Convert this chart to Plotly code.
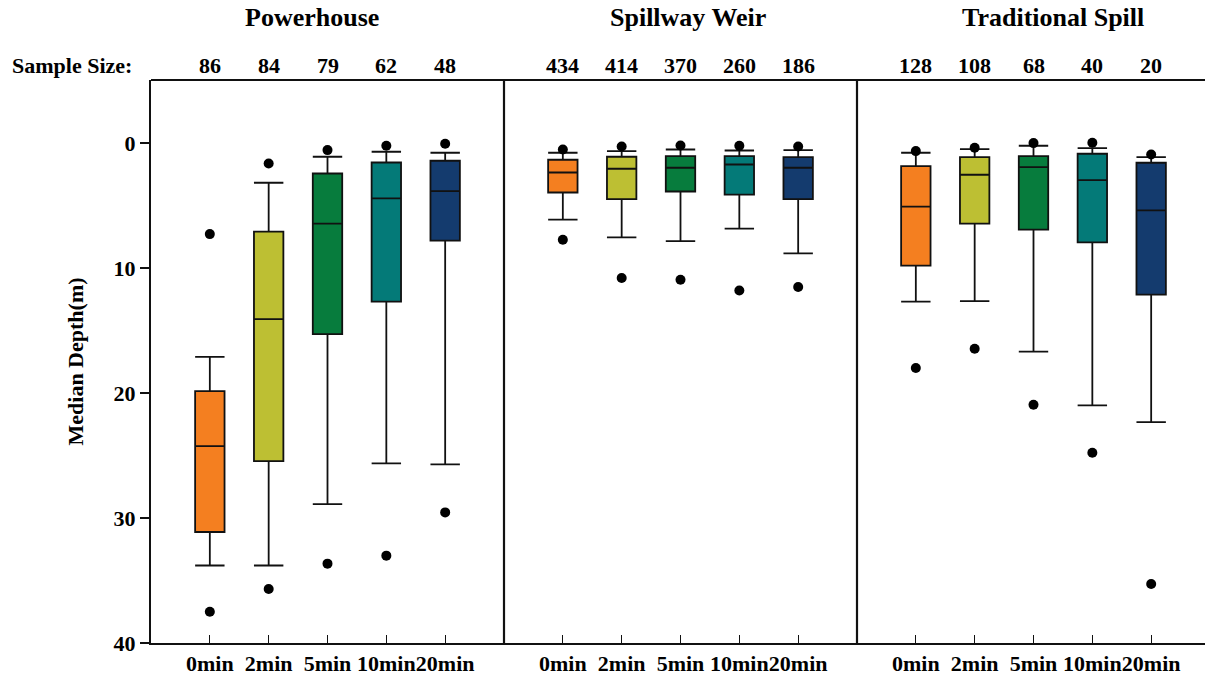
import plotly.graph_objects as go

# Release groups and time-after-passage categories
panels = ["Powerhouse", "Spillway Weir", "Traditional Spill"]
time_labels = ["0min", "2min", "5min", "10min", "20min"]
box_colors = ["#F47F20", "#BDBF33", "#077C3D", "#047A78", "#143B6E"]

# Sample sizes per group
n_powerhouse = [86, 84, 79, 62, 48]
n_spillway = [434, 414, 370, 260, 186]
n_traditional = [128, 108, 68, 40, 20]

# Median depth (m) summaries: 5th pct, whisker low, Q1, median, Q3, whisker high, 95th pct
ph_p5 = [7.28, 1.63, 0.56, 0.21, 0.05]
ph_wlo = [17.1, 3.17, 1.09, 0.69, 0.77]
ph_q1 = [19.84, 7.09, 2.43, 1.55, 1.41]
ph_med = [24.24, 14.08, 6.45, 4.43, 3.84]
ph_q3 = [31.12, 25.44, 15.28, 12.69, 7.81]
ph_whi = [33.8, 33.8, 28.88, 25.63, 25.71]
ph_p95 = [37.5, 35.68, 33.65, 33.01, 29.55]

sw_p5 = [0.51, 0.27, 0.19, 0.21, 0.27]
sw_wlo = [0.77, 0.64, 0.51, 0.59, 0.56]
sw_q1 = [1.33, 1.09, 1.04, 1.04, 1.12]
sw_med = [2.35, 2.05, 1.97, 1.71, 1.97]
sw_q3 = [3.95, 4.48, 3.87, 4.13, 4.48]
sw_whi = [6.13, 7.55, 7.84, 6.85, 8.83]
sw_p95 = [7.73, 10.8, 10.93, 11.79, 11.52]

ts_p5 = [0.64, 0.37, 0.0, -0.03, 0.91]
ts_wlo = [0.77, 0.48, 0.21, 0.4, 1.12]
ts_q1 = [1.84, 1.12, 1.04, 0.85, 1.57]
ts_med = [5.09, 2.53, 1.92, 2.96, 5.39]
ts_q3 = [9.81, 6.45, 6.93, 7.95, 12.13]
ts_whi = [12.69, 12.64, 16.69, 20.99, 22.32]
ts_p95 = [18.0, 16.45, 20.93, 24.77, 35.28]

y_ticks = [0, 10, 20, 30, 40]

groups = [
    (n_powerhouse, ph_p5, ph_wlo, ph_q1, ph_med, ph_q3, ph_whi, ph_p95),
    (n_spillway, sw_p5, sw_wlo, sw_q1, sw_med, sw_q3, sw_whi, sw_p95),
    (n_traditional, ts_p5, ts_wlo, ts_q1, ts_med, ts_q3, ts_whi, ts_p95),
]

FONT = "Liberation Serif"
W, H = 1205, 680
ML, MR, MT, MB = 151, 0, 80, 37
plot_w = W - ML - MR
plot_h = H - MT - MB

# panel edges in pixels, converted to paper fractions
edges_px = [151, 504, 857, 1205]
dom = [(e - ML) / plot_w for e in edges_px]

fig = go.Figure()
xaxis_names = ["x", "x2", "x3"]
positions = list(range(len(time_labels)))

for p, (n, p5, wlo, q1, med, q3, whi, p95) in enumerate(groups):
    xa = xaxis_names[p]
    for i in positions:
        fig.add_trace(go.Box(
            x=[i], q1=[q1[i]], median=[med[i]], q3=[q3[i]],
            lowerfence=[wlo[i]], upperfence=[whi[i]],
            width=0.5, whiskerwidth=1,
            fillcolor=box_colors[i],
            line=dict(color="#111111", width=1.8),
            boxpoints=False, showlegend=False,
            xaxis=xa, yaxis="y",
        ))
    fig.add_trace(go.Scatter(
        x=positions + positions, y=p5 + p95, mode="markers",
        marker=dict(color="black", size=10),
        showlegend=False, xaxis=xa, yaxis="y",
    ))

tickfont = dict(family=FONT, size=22, color="black", weight="bold")

layout = dict(
    width=W, height=H,
    margin=dict(l=ML, r=MR, t=MT, b=MB, autoexpand=False),
    paper_bgcolor="white", plot_bgcolor="white",
    showlegend=False,
    yaxis=dict(
        range=[40, -5.05], autorange=False,
        tickvals=y_ticks, ticktext=[str(v) for v in y_ticks],
        ticks="outside", ticklen=9, tickwidth=1.5, tickcolor="#111111",
        showline=True, linecolor="#111111", linewidth=2,
        showgrid=False, zeroline=False, tickfont=tickfont,
        anchor="x", automargin=False,
    ),
)

# the last panel runs slightly past the right edge, so its range is trimmed
x_ranges = [[-1, 5], [-1, 5], [-1, 5 - (1210 - 1205) / 58.75]]
for p, xa in enumerate(xaxis_names):
    key = "xaxis" if p == 0 else f"xaxis{p + 1}"
    layout[key] = dict(
        domain=[dom[p], dom[p + 1]],
        range=x_ranges[p], autorange=False,
        tickvals=positions, ticktext=time_labels, tickangle=0,
        ticks="inside", ticklen=8, tickwidth=1.3, tickcolor="#111111",
        showline=True, linecolor="#111111", linewidth=1.6,
        showgrid=False, zeroline=False, tickfont=tickfont,
        anchor="y", automargin=False,
    )

fig.update_layout(**layout)

# frame: top border and panel dividers
fig.add_shape(type="line", xref="paper", yref="paper", x0=0, x1=1, y0=1, y1=1,
              line=dict(color="#111111", width=2))
for d in dom[1:3]:
    fig.add_shape(type="line", xref="paper", yref="paper", x0=d, x1=d, y0=0, y1=1,
                  line=dict(color="#111111", width=2.2))

def py(px):
    return (H - MB - px) / plot_h

def pxx(px):
    return (px - ML) / plot_w

title_centers = [312, 688, 1053]
for name, cx in zip(panels, title_centers):
    fig.add_annotation(text=name, xref="paper", yref="paper", x=pxx(cx), y=py(18),
                       xanchor="center", yanchor="middle", showarrow=False,
                       font=dict(family=FONT, size=26, color="black", weight="bold"))

fig.add_annotation(text="Sample Size:", xref="paper", yref="paper", x=pxx(10), y=py(65),
                   xanchor="left", yanchor="middle", showarrow=False,
                   font=dict(family=FONT, size=22, color="black", weight="bold"))

for p, (n, *_rest) in enumerate(groups):
    for i in positions:
        fig.add_annotation(text=str(n[i]), xref=xaxis_names[p], yref="paper",
                           x=i, y=py(65), xanchor="center", yanchor="middle",
                           showarrow=False,
                           font=dict(family=FONT, size=22, color="black", weight="bold"))

fig.add_annotation(text="Median Depth(m)", xref="paper", yref="paper", x=pxx(75), y=0.5,
                   xanchor="center", yanchor="middle", textangle=-90, showarrow=False,
                   font=dict(family=FONT, size=22, color="black", weight="bold"))

fig.write_html("out.html")
